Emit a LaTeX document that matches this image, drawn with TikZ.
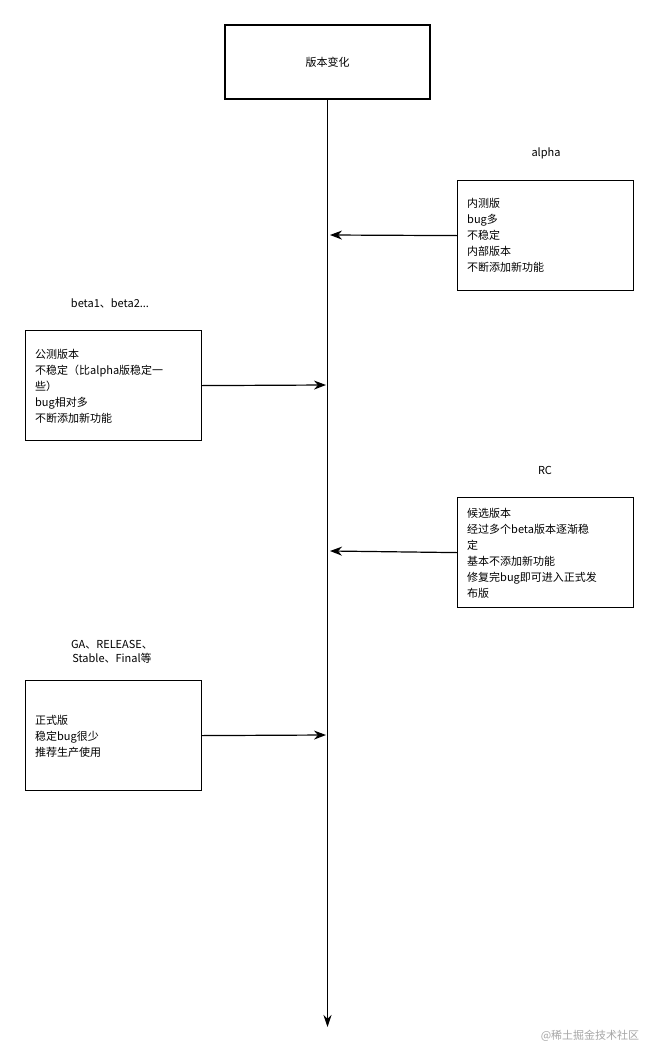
\documentclass[tikz,border=0pt]{standalone}
\usepackage{fontspec}
\setmainfont{Noto Sans CJK SC}
\usetikzlibrary{arrows.meta}
\begin{document}
\begin{tikzpicture}[x=1pt,y=-1pt,
  box/.style={draw,line width=1.2pt,minimum width=176pt,minimum height=110pt,anchor=north west},
  txt/.style={align=left,anchor=west,font=\fontsize{11pt}{16pt}\selectfont,inner sep=0pt},
  lbl/.style={font=\fontsize{11pt}{14pt}\selectfont,align=center},
  arr/.style={line width=1.2pt,-{Stealth[length=12pt,width=9pt]}}]
\useasboundingbox (0,0) rectangle (658,1052);
\node[draw,line width=1.2pt,minimum width=205pt,minimum height=74pt] (top) at (327.5,62) {\fontsize{11pt}{14pt}\selectfont 版本变化};
\coordinate (bot) at (327.5,1027);
\draw[line width=1.2pt,-{Stealth[length=12pt,width=8pt]}] (top.south) -- (bot);
\coordinate (pa) at (330,235);
\coordinate (pb) at (326,385);
\coordinate (pr) at (330,551);
\coordinate (pg) at (326,735);

\node[box] (alpha) at (457,180) {};
\node[txt] at (467,235) {内测版\\bug多\\不稳定\\内部版本\\不断添加新功能};
\node[lbl] at (546,153) {alpha};
\draw[arr] (alpha.west) -- (pa);

\node[box] (beta) at (25,330) {};
\node[txt] at (35,386) {公测版本\\不稳定（比alpha版稳定一\\些）\\bug相对多\\不断添加新功能};
\node[lbl] at (110,303) {beta1、beta2...};
\draw[arr] (beta.east) -- (pb);

\node[box] (rc) at (457,497) {};
\node[txt] at (467,553) {候选版本\\经过多个beta版本逐渐稳\\定\\基本不添加新功能\\修复完bug即可进入正式发\\布版};
\node[lbl] at (545,470) {RC};
\draw[arr] (rc.west) -- (pr);

\node[box] (ga) at (25,680) {};
\node[txt] at (35,736) {正式版\\稳定bug很少\\推荐生产使用};
\node[lbl] at (112,652) {GA、RELEASE、\\Stable、Final等};
\draw[arr] (ga.east) -- (pg);

\node[font=\fontsize{11pt}{14pt}\selectfont,text=black!35] at (590,1036) {@稀土掘金技术社区};
\end{tikzpicture}
\end{document}
